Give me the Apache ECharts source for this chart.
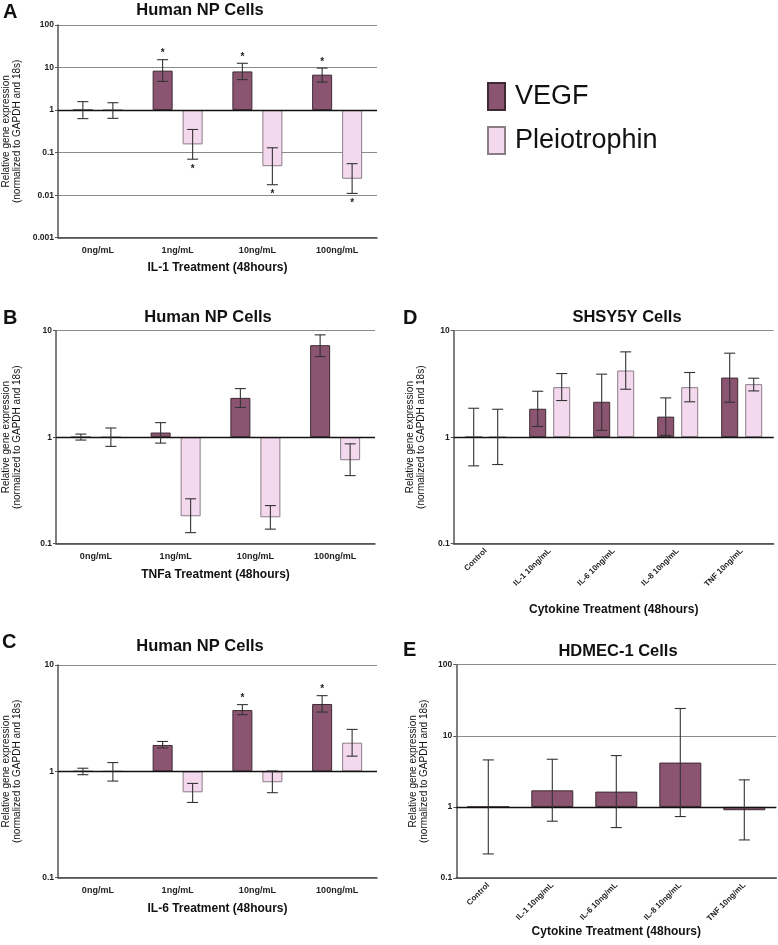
<!DOCTYPE html>
<html><head><meta charset="utf-8">
<script src="https://cdn.jsdelivr.net/npm/echarts@6/dist/echarts.min.js"></script>
<style>html,body{margin:0;padding:0;background:#fff}#c{width:778px;height:945px}</style>
</head><body><div id="c"></div>
<script>
// ---- Data ----
const catsNP = ['0ng/mL', '1ng/mL', '10ng/mL', '100ng/mL'];
const catsCyt = ['Control', 'IL-1 10ng/mL', 'IL-6 10ng/mL', 'IL-8 10ng/mL', 'TNF 10ng/mL'];

// Panel A (IL-1)
const vegfA = [1, 8.45, 8.1, 6.8];
const vegfA_lo = [0.63, 4.73, 5.2, 4.56];
const vegfA_hi = [1.58, 15.3, 12.6, 9.7];
const vegfA_sig = [0, 1, 1, 1];
const pleioA = [1, 0.156, 0.048, 0.0243];
const pleioA_lo = [0.64, 0.070, 0.0176, 0.011];
const pleioA_hi = [1.49, 0.35, 0.13, 0.055];
const pleioA_sig = [0, 1, 1, 1];

// Panel B (TNFa)
const vegfB = [1.0, 1.106, 2.34, 7.31];
const vegfB_lo = [0.94, 0.88, 1.90, 5.72];
const vegfB_hi = [1.07, 1.37, 2.86, 9.14];
const pleioB = [1.0, 0.181, 0.177, 0.608];
const pleioB_lo = [0.82, 0.127, 0.137, 0.436];
const pleioB_hi = [1.22, 0.264, 0.228, 0.866];

// Panel C (IL-6)
const vegfC = [1.0, 1.77, 3.77, 4.30];
const vegfC_lo = [0.93, 1.66, 3.41, 3.61];
const vegfC_hi = [1.07, 1.91, 4.24, 5.15];
const vegfC_sig = [0, 0, 1, 1];
const pleioC = [1.0, 0.635, 0.79, 1.86];
const pleioC_lo = [0.81, 0.51, 0.63, 1.39];
const pleioC_hi = [1.21, 0.77, 1.01, 2.48];

// Panel D (SHSY5Y)
const vegfD = [1, 1.85, 2.15, 1.56, 3.63];
const vegfD_lo = [0.538, 1.26, 1.16, 1.04, 2.13];
const vegfD_hi = [1.87, 2.70, 3.91, 2.34, 6.15];
const pleioD = [1, 2.95, 4.23, 2.95, 3.15];
const pleioD_lo = [0.554, 2.21, 2.82, 2.15, 2.72];
const pleioD_hi = [1.83, 3.96, 6.33, 4.05, 3.58];

// Panel E (HDMEC-1)
const vegfE = [1, 1.71, 1.64, 4.20, 0.898];
const vegfE_lo = [0.218, 0.629, 0.512, 0.731, 0.343];
const vegfE_hi = [4.58, 4.68, 5.27, 24.2, 2.40];

// ---- Styles ----
const FONT = 'Liberation Sans, Arial, sans-serif';
const VEGF_COLOR = '#8b5571', VEGF_BORDER = '#3d2a33';
const PLEIO_COLOR = '#f4d9ee', PLEIO_BORDER = '#8a7d86';

const panels = [
  {grid: {left: 57, top: 25, width: 320, height: 212.7}, cats: catsNP, min: 0.001, max: 100,
   xName: 'IL-1 Treatment (48hours)', xGap: 24, yGap: 35, rotate: 0, barW: 20, off: 15,
   series: [
     {name: 'VEGF', v: vegfA, lo: vegfA_lo, hi: vegfA_hi, sig: vegfA_sig},
     {name: 'Pleiotrophin', v: pleioA, lo: pleioA_lo, hi: pleioA_hi, sig: pleioA_sig}]},
  {grid: {left: 55, top: 330.7, width: 320, height: 213}, cats: catsNP, min: 0.1, max: 10,
   xName: 'TNFa Treatment (48hours)', xGap: 25, yGap: 33, rotate: 0, barW: 20, off: 15,
   series: [
     {name: 'VEGF', v: vegfB, lo: vegfB_lo, hi: vegfB_hi},
     {name: 'Pleiotrophin', v: pleioB, lo: pleioB_lo, hi: pleioB_hi}]},
  {grid: {left: 57, top: 665, width: 320, height: 212.7}, cats: catsNP, min: 0.1, max: 10,
   xName: 'IL-6 Treatment (48hours)', xGap: 25, yGap: 35, rotate: 0, barW: 20, off: 15,
   series: [
     {name: 'VEGF', v: vegfC, lo: vegfC_lo, hi: vegfC_hi, sig: vegfC_sig},
     {name: 'Pleiotrophin', v: pleioC, lo: pleioC_lo, hi: pleioC_hi}]},
  {grid: {left: 453.7, top: 330.7, width: 320, height: 213}, cats: catsCyt, min: 0.1, max: 10,
   xName: 'Cytokine Treatment (48hours)', xGap: 60, yGap: 27, rotate: 45, barW: 17, off: 12,
   series: [
     {name: 'VEGF', v: vegfD, lo: vegfD_lo, hi: vegfD_hi},
     {name: 'Pleiotrophin', v: pleioD, lo: pleioD_lo, hi: pleioD_hi}]},
  {grid: {left: 456.3, top: 664.7, width: 320, height: 213.3}, cats: catsCyt, min: 0.1, max: 100,
   xName: 'Cytokine Treatment (48hours)', xGap: 37, yGap: 27, rotate: 45, barW: 42, off: 0,
   series: [
     {name: 'VEGF', v: vegfE, lo: vegfE_lo, hi: vegfE_hi}]}
];

const grids = [], xAxes = [], yAxes = [], series = [];

function errRender(offset, side) {
  return function (params, api) {
    const c = api.value(0), lo = api.value(1), hi = api.value(2), sig = api.value(3);
    const pHi = api.coord([c, hi]), pLo = api.coord([c, lo]);
    const x = pHi[0] + offset, cw = 5.5;
    const st = {stroke: '#333', lineWidth: 1.1};
    const ch = [
      {type: 'line', shape: {x1: x, y1: pHi[1], x2: x, y2: pLo[1]}, style: st},
      {type: 'line', shape: {x1: x - cw, y1: pHi[1], x2: x + cw, y2: pHi[1]}, style: st},
      {type: 'line', shape: {x1: x - cw, y1: pLo[1], x2: x + cw, y2: pLo[1]}, style: st}
    ];
    if (sig) {
      ch.push({type: 'text', style: {text: '*', x: x, y: side > 0 ? pHi[1] - 6 : pLo[1] + 10,
        textAlign: 'center', textVerticalAlign: 'middle', font: 'bold 10px ' + FONT, fill: '#222'}});
    }
    return {type: 'group', children: ch};
  };
}

panels.forEach((p, i) => {
  grids.push(Object.assign({containLabel: false}, p.grid));
  xAxes.push({
    type: 'category', gridIndex: i, data: p.cats,
    name: p.xName, nameLocation: 'middle', nameGap: p.xGap,
    nameTextStyle: {fontFamily: FONT, fontWeight: 'bold', fontSize: 12, color: '#111'},
    axisLine: {lineStyle: {color: '#444', width: 1.5}},
    axisTick: {alignWithLabel: true, length: 4, lineStyle: {color: '#444'}},
    axisLabel: {fontFamily: FONT, fontWeight: 'bold', fontSize: p.rotate ? 8 : 9, color: '#222',
      rotate: p.rotate, margin: p.rotate ? 6 : 8, interval: 0},
    splitLine: {show: false}
  });
  yAxes.push({
    type: 'log', logBase: 10, gridIndex: i, min: p.min, max: p.max,
    name: 'Relative gene expression\n(normalized to GAPDH and 18s)',
    nameLocation: 'middle', nameGap: p.yGap, nameRotate: 90,
    nameTextStyle: {fontFamily: FONT, fontSize: 10, lineHeight: 11, color: '#111'},
    axisLine: {show: true, lineStyle: {color: '#555', width: 1.5}},
    axisTick: {show: true, length: 3, lineStyle: {color: '#555'}},
    axisLabel: {fontFamily: FONT, fontWeight: 'bold', fontSize: 8.5, color: '#222', margin: 4},
    splitLine: {show: true, lineStyle: {color: '#8c8c8c', width: 1}}
  });
  const n = p.series.length;
  p.series.forEach((s, k) => {
    const isV = s.name === 'VEGF';
    const bar = {
      type: 'bar', name: s.name, xAxisIndex: i, yAxisIndex: i, data: s.v,
      barWidth: p.barW, barGap: (2 * p.off - p.barW) / p.barW * 100 + '%',
      itemStyle: {color: isV ? VEGF_COLOR : PLEIO_COLOR, borderColor: isV ? VEGF_BORDER : PLEIO_BORDER, borderWidth: 1},
      z: 2
    };
    if (k === 0) {
      bar.markLine = {silent: true, symbol: 'none', label: {show: false},
        lineStyle: {color: '#111', width: 1.3, type: 'solid'}, data: [{yAxis: 1}]};
    }
    series.push(bar);
    const offset = n === 1 ? 0 : (k === 0 ? -p.off : p.off);
    const errData = s.v.map((_, j) => [j, s.lo[j], s.hi[j], s.sig ? s.sig[j] : 0]);
    series.push({
      type: 'custom', name: s.name + ' error', xAxisIndex: i, yAxisIndex: i,
      renderItem: errRender(offset, isV ? 1 : -1), data: errData,
      encode: {x: 0, y: [1, 2]}, z: 5, silent: true
    });
  });
});

const texts = [
  ['A', 3, 12, 'left', 20], ['Human NP Cells', 200, 10, 'center', 16.5],
  ['B', 3, 318, 'left', 20], ['Human NP Cells', 208, 317, 'center', 16.5],
  ['C', 2, 642, 'left', 20], ['Human NP Cells', 200, 646, 'center', 16.5],
  ['D', 403, 318, 'left', 20], ['SHSY5Y Cells', 627, 317, 'center', 16.5],
  ['E', 403, 650, 'left', 20], ['HDMEC-1 Cells', 618, 651, 'center', 16.5]
];
const graphic = texts.map(t => ({
  type: 'text', x: t[1], y: t[2],
  style: {text: t[0], textAlign: t[3], textVerticalAlign: 'middle',
    font: 'bold ' + t[4] + 'px ' + FONT, fill: '#111'}
}));

const chart = echarts.init(document.getElementById('c'), null, {renderer: 'canvas'});
chart.setOption({
  animation: false,
  backgroundColor: '#fff',
  grid: grids, xAxis: xAxes, yAxis: yAxes, series: series, graphic: graphic,
  legend: {
    data: ['VEGF', 'Pleiotrophin'], orient: 'vertical', left: 487, top: 82, padding: 0,
    itemWidth: 17, itemHeight: 27, itemGap: 15, icon: 'rect',
    textStyle: {fontFamily: FONT, fontSize: 27, color: '#111', lineHeight: 27, padding: [0, 0, 0, 5]},
    selectedMode: false
  }
});
</script></body></html>
